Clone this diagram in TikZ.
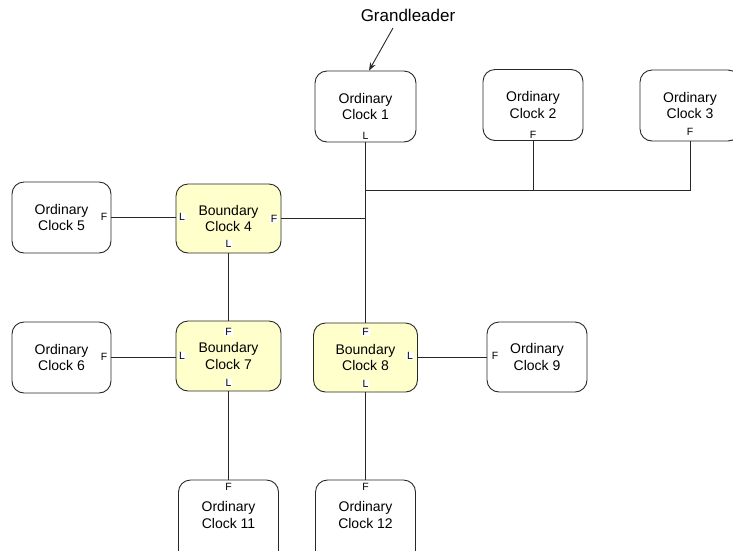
\documentclass[tikz,border=0pt]{standalone}
\usepackage{fontspec}
\setmainfont{Liberation Sans}
\usetikzlibrary{arrows.meta}
\definecolor{bcfill}{RGB}{255,255,204}
\definecolor{linegray}{RGB}{40,40,40}
\begin{document}
\begin{tikzpicture}[x=1pt,y=-1pt,
  clock/.style={draw=linegray, line width=0.9pt, rounded corners=12pt, align=center,
    font=\fontsize{14}{16.5}\selectfont, inner sep=0pt},
  ordinary/.style={clock, fill=white, minimum width=100pt, minimum height=71pt},
  boundary/.style={clock, fill=bcfill, minimum width=105pt, minimum height=70pt},
  cliplabel/.style={font=\fontsize{14}{16.5}\selectfont, align=center},
  port/.style={font=\fontsize{10.5}{11}\selectfont, fill=white, inner sep=0.8pt},
  link/.style={draw=linegray, line width=0.9pt},
  ]
\useasboundingbox (0,0) rectangle (733,550);

% clocks
\node[ordinary, minimum width=101pt] (oc1) at (365.5,106.5) {Ordinary\\Clock 1};
\node[ordinary] (oc2) at (533,105) {Ordinary\\Clock 2};
\node[ordinary] (oc3) at (690,105.5) {Ordinary\\Clock 3};
\node[ordinary, minimum width=99pt] (oc5) at (61.5,217.5) {Ordinary\\Clock 5};
\node[boundary, minimum height=69pt] (bc4) at (228.5,218.5) {Boundary\\Clock 4};
\node[ordinary, minimum width=99pt] (oc6) at (61.5,357.5) {Ordinary\\Clock 6};
\node[boundary] (bc7) at (228.5,356) {Boundary\\Clock 7};
\node[boundary, minimum width=104pt, minimum height=69pt] (bc8) at (365.5,357.5) {Boundary\\Clock 8};
\node[ordinary, minimum height=70pt] (oc9) at (537,357) {Ordinary\\Clock 9};
\node[ordinary, minimum height=84pt] (oc11) at (228.5,522) {};
\node[ordinary, minimum height=84pt] (oc12) at (365.5,522) {};
\node[cliplabel] (oc11t) at (228.5,515) {Ordinary\\Clock 11};
\node[cliplabel] (oc12t) at (365.5,515) {Ordinary\\Clock 12};

% grandleader
\node[font=\fontsize{17}{19}\selectfont] (gl) at (408,15) {Grandleader};
\coordinate (glstart) at (393,28);
\draw[link, -{Stealth[length=8pt,width=6pt]}] (glstart) -- ([xshift=3.5pt]oc1.north);

% links
\coordinate (bus) at (365.5,190);
\draw[link] (oc1.south) -- (bc8.north);
\draw[link] (bus) -| (oc3.south);
\draw[link] (oc2.south) -- (oc2.south |- bus);
\draw[link] (bc4.east) -- (bc4.east -| oc1.south);
\draw[link] (oc5.east) -- (oc5.east -| bc4.west);
\draw[link] (bc4.south) -- (bc7.north);
\draw[link] (oc6.east) -- (oc6.east -| bc7.west);
\draw[link] (bc7.south) -- (oc11.north);
\draw[link] (bc8.south) -- (oc12.north);
\draw[link] (bc8.east) -- (bc8.east -| oc9.west);

% port states
\node[port] (p1) at (365.5,136) {L};
\node[port] (p2) at (533,135) {F};
\node[port] (p3) at (690,132) {F};
\node[port] (p5) at (104,217) {F};
\node[port] (p4l) at (182,217) {L};
\node[port] (p4f) at (274,219) {F};
\node[port] (p4b) at (228.5,244) {L};
\node[port] (p6) at (104,357) {F};
\node[port] (p7f) at (228.5,332) {F};
\node[port] (p7l) at (182,356) {L};
\node[port] (p7b) at (228.5,383) {L};
\node[port] (p8f) at (365.5,332) {F};
\node[port] (p8l) at (410,356) {L};
\node[port] (p8b) at (365.5,384) {L};
\node[port] (p9) at (495,356) {F};
\node[port] (p11) at (228.5,487) {F};
\node[port] (p12) at (365.5,487) {F};
\end{tikzpicture}
\end{document}
